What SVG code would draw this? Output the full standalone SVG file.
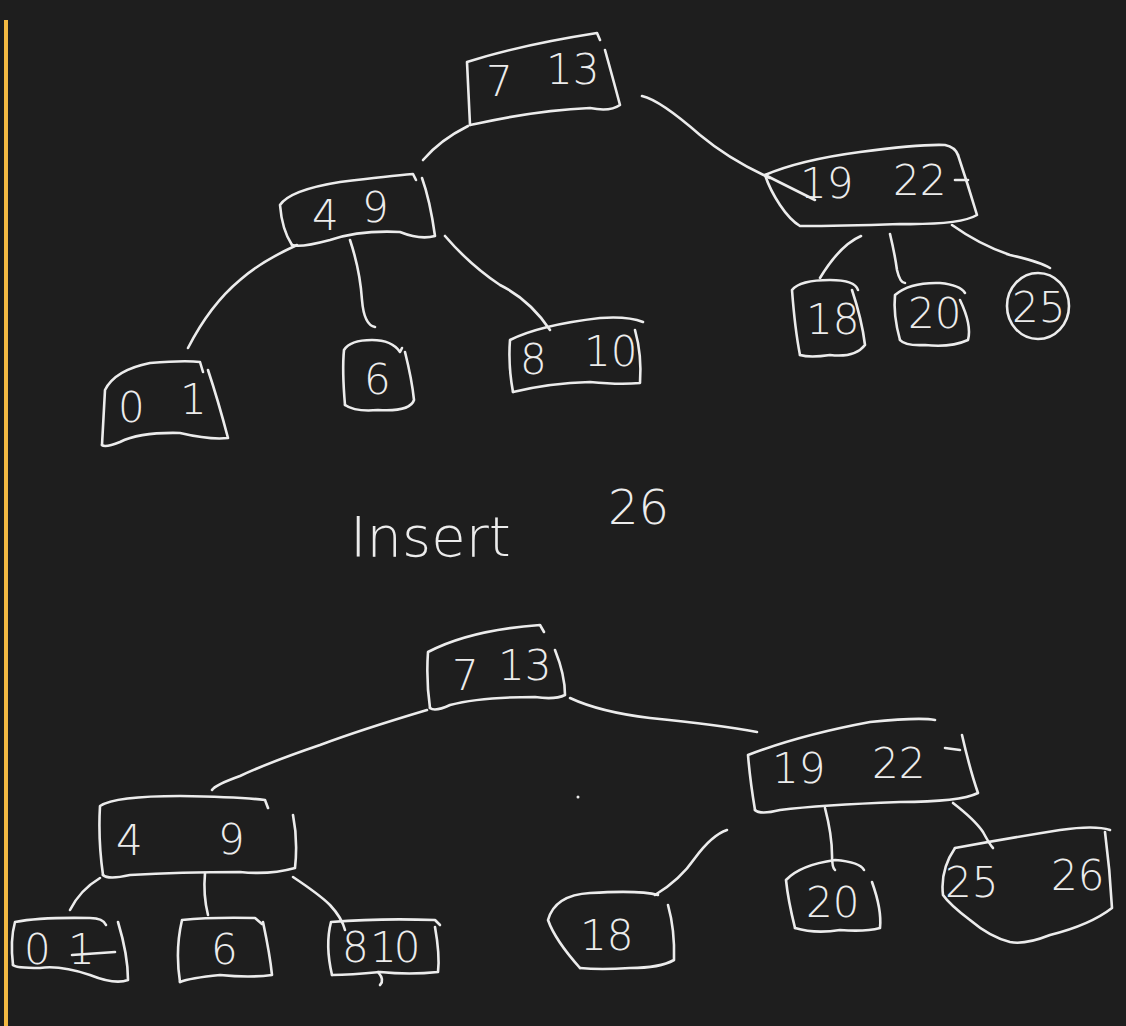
<svg xmlns="http://www.w3.org/2000/svg" width="1126" height="1026" viewBox="0 0 1126 1026">
<style>
.s{fill:none;stroke:#ececec;stroke-width:2.6;stroke-linecap:round;stroke-linejoin:round}
.t{fill:#ececec;font-family:"DejaVu Sans","Liberation Sans",Arial,sans-serif;font-weight:200;font-size:42px}
</style>
<rect width="1126" height="1026" fill="#1e1e1e"/>
<rect x="4" y="20" width="4" height="1006" fill="#f4b942"/>
<g id="connectors">
<path class="s" d="M468,126 Q440,140 423,160"/>
<path class="s" d="M642,96 Q660,100 700,135 Q730,160 770,178"/>
<path class="s" d="M297,245 Q260,262 240,280 Q210,305 188,348"/>
<path class="s" d="M350,240 Q360,270 362,300 Q364,325 375,327"/>
<path class="s" d="M445,236 Q470,265 500,285 Q530,300 550,330"/>
<path class="s" d="M861,236 Q840,245 820,278"/>
<path class="s" d="M890,234 Q895,255 897,270 Q900,283 905,283"/>
<path class="s" d="M952,225 Q980,245 1010,255 Q1040,262 1050,268"/>
<path class="s" d="M427,710 Q360,730 320,745 Q270,762 240,776 Q215,785 212,790"/>
<path class="s" d="M570,698 Q600,712 650,718 Q720,725 757,732"/>
<path class="s" d="M100,878 Q80,890 70,910"/>
<path class="s" d="M205,873 Q203,895 208,915"/>
<path class="s" d="M293,877 Q320,895 330,905 Q342,918 345,930"/>
<path class="s" d="M727,830 Q712,835 695,858 Q680,880 655,895"/>
<path class="s" d="M825,808 Q832,835 832,855 Q832,868 835,870"/>
<path class="s" d="M953,803 Q975,820 983,832 Q990,845 993,848"/>
</g>
<g id="n_root_top">
<path class="s" d="M470,125 L467,62 Q520,45 597,33 L600,40"/>
<path class="s" d="M605,50 Q612,75 620,105 Q610,112 590,108 Q540,110 480,123 L470,125"/>
<text class="t" x="486" y="96">7</text>
<text class="t" x="546" y="84">13</text>
</g>
<g id="n_49_top">
<path class="s" d="M292,245 Q282,230 280,205 Q290,190 340,182 Q390,176 413,174 L416,180"/>
<path class="s" d="M422,178 Q430,200 435,236 Q420,240 400,232 Q360,230 330,240 Q300,248 292,245"/>
<text class="t" x="312" y="230">4</text>
<text class="t" x="362" y="222">9</text>
</g>
<g id="n_01_top">
<path class="s" d="M102,445 Q104,410 105,390 Q115,370 150,363 Q185,360 200,362 L203,372"/>
<path class="s" d="M208,370 Q218,400 228,438 Q210,440 180,433 Q140,432 120,442 Q105,448 102,445"/>
<text class="t" x="118" y="422">0</text>
<text class="t" x="180" y="414">1</text>
</g>
<g id="n_6_top">
<path class="s" d="M345,405 Q342,370 344,350 Q350,340 372,340 Q392,340 400,352 L402,348"/>
<path class="s" d="M405,352 Q412,380 414,400 Q410,412 378,410 Q355,412 345,405"/>
<text class="t" x="364" y="394">6</text>
</g>
<g id="n_810_top">
<path class="s" d="M513,392 Q508,365 510,340 Q540,325 600,318 Q628,316 643,322"/>
<path class="s" d="M635,330 Q642,355 640,383 Q620,385 590,382 Q550,383 513,392"/>
<text class="t" x="520" y="374">8</text>
<text class="t" x="584" y="366">10</text>
</g>
<g id="n_1922_top">
<path class="s" d="M765,175 Q800,160 860,152 Q920,144 945,145 Q955,147 958,155"/>
<path class="s" d="M958,155 Q968,185 977,215 Q960,225 900,224 Q840,226 800,226 Q790,220 780,205 Q770,190 765,175 L815,200"/>
<path class="s" d="M955,180 L968,180"/>
<text class="t" x="800" y="198">19</text>
<text class="t" x="893" y="195">22</text>
</g>
<g id="n_18_top">
<path class="s" d="M800,355 Q795,330 792,290 Q800,280 830,280 Q855,280 858,290"/>
<path class="s" d="M852,290 Q862,320 865,345 Q855,358 830,355 Q810,358 800,355"/>
<text class="t" x="806" y="334">18</text>
</g>
<g id="n_20_top">
<path class="s" d="M900,340 Q893,315 895,295 Q910,282 940,283 Q960,285 965,293"/>
<path class="s" d="M960,300 Q972,325 968,340 Q950,348 925,345 Q905,346 900,340"/>
<text class="t" x="908" y="328">20</text>
</g>
<g id="n_25_top">
<ellipse class="s" cx="1038" cy="306" rx="31" ry="33"/>
<text class="t" x="1012" y="322">25</text>
</g>
<g id="label">
<text class="t" x="350" y="556" style="font-size:56px">Insert</text>
<text class="t" x="608" y="524" style="font-size:48px">26</text>
</g>
<g id="n_root_bot">
<path class="s" d="M430,708 Q426,680 428,652 Q470,630 540,625 L544,632"/>
<path class="s" d="M555,650 Q565,675 565,695 Q555,700 535,697 Q480,697 450,705 Q435,712 430,708"/>
<text class="t" x="452" y="690">7</text>
<text class="t" x="498" y="680">13</text>
</g>
<g id="n_49_bot">
<path class="s" d="M103,875 Q98,840 100,806 Q115,796 180,796 Q240,797 265,800 L268,808"/>
<path class="s" d="M293,815 Q298,840 295,868 Q270,875 240,872 Q180,872 130,875 Q108,880 103,875"/>
<text class="t" x="116" y="855">4</text>
<text class="t" x="218" y="854">9</text>
</g>
<g id="n_01_bot">
<path class="s" d="M13,965 Q10,940 15,922 Q40,917 90,918 Q103,918 106,925"/>
<path class="s" d="M118,922 Q128,955 128,980 Q115,985 90,975 Q60,965 40,968 Q15,968 13,965"/>
<path class="s" d="M72,955 L115,952"/>
<text class="t" x="24" y="964">0</text>
<text class="t" x="68" y="964">1</text>
</g>
<g id="n_6_bot">
<path class="s" d="M180,982 Q175,950 182,920 Q210,917 255,918 L262,924"/>
<path class="s" d="M263,922 Q270,955 272,975 Q250,978 220,975 Q190,978 180,982"/>
<text class="t" x="211" y="964">6</text>
</g>
<g id="n_810_bot">
<path class="s" d="M332,975 Q325,945 331,922 Q380,918 435,920 L440,925"/>
<path class="s" d="M435,927 Q440,955 438,972 Q410,975 380,972 Q350,975 332,975"/>
<path class="s" d="M378,972 Q385,980 380,985"/>
<text class="t" x="342" y="962">8</text>
<text class="t" x="370" y="962" style="letter-spacing:-3px">10</text>
</g>
<g id="n_18_bot">
<path class="s" d="M580,968 Q555,940 548,920 Q555,895 590,893 Q640,890 658,895"/>
<path class="s" d="M668,905 Q675,930 674,960 Q660,968 630,968 Q600,970 580,968"/>
<text class="t" x="580" y="950">18</text>
</g>
<g id="n_1922_bot">
<path class="s" d="M755,810 Q750,780 748,755 Q800,735 870,722 Q920,717 935,720"/>
<path class="s" d="M962,735 Q970,770 978,793 Q960,802 900,802 Q820,805 780,810 Q760,815 755,810"/>
<path class="s" d="M945,748 L960,750"/>
<text class="t" x="772" y="783">19</text>
<text class="t" x="872" y="778">22</text>
</g>
<g id="n_20_bot">
<path class="s" d="M795,928 Q788,900 786,880 Q800,865 835,860 Q860,862 864,870"/>
<path class="s" d="M872,882 Q882,910 880,928 Q865,932 840,930 Q815,934 795,928"/>
<text class="t" x="806" y="917">20</text>
</g>
<g id="n_2526_bot">
<path class="s" d="M955,848 Q1010,838 1060,830 Q1095,825 1110,830"/>
<path class="s" d="M1105,832 Q1110,870 1112,908 Q1090,925 1050,935 Q1025,945 1010,942 Q990,937 970,920 Q950,905 943,895 Q940,870 955,848"/>
<text class="t" x="945" y="897">25</text>
<text class="t" x="1051" y="890">26</text>
</g>
<circle cx="578" cy="797" r="1.5" fill="#ececec"/>
</svg>
